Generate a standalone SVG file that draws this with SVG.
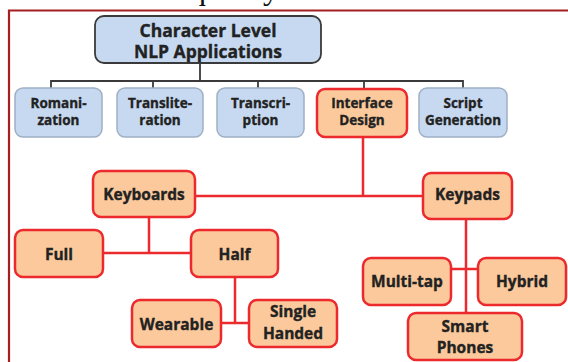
<svg xmlns="http://www.w3.org/2000/svg" width="568" height="362" viewBox="0 0 568 362">
<style>
text{font-family:"Open Sans",Lato,"Liberation Sans",sans-serif;font-weight:700;fill:#222;stroke:#222;stroke-width:0.35;text-anchor:middle}
.cap{font-family:"Liberation Serif","Times New Roman",serif;font-weight:400;fill:#111;stroke:none;text-anchor:start;font-size:32px}
.root{fill:#c6d9f0;stroke:#3a3a3a;stroke-width:1.8}
.blue{fill:#c6d9f0;stroke:#9fb0c4;stroke-width:1.5}
.red{fill:#fbc99b;stroke:#ec2a2e;stroke-width:2.5}
.t1{font-size:17.5px}
.t2{font-size:13.5px}
.t3{font-size:15.5px}
.cg{fill:none;stroke:#3a3a3a;stroke-width:1.8}
.cr{fill:none;stroke:#ec2a2e;stroke-width:2.5}
</style>
<rect width="568" height="362" fill="#fff"/>
<text class="cap" x="190" y="-1">quality</text>
<path d="M9,362 V10.5 H568" fill="none" stroke="#a31f22" stroke-width="2.2"/>
<g id="connectors">
<path class="cg" d="M200,64 V81 M51,88 V81 H463 V88 M153,81 V88 M258,81 V88 M364,81 V89"/>
<path class="cr" d="M363,137 V196 M195,196 H423 M149,217 V253 M103,253 H191 M235,277 V323 M221,323 H249 M466,219 V313 M451,269 H478"/>
</g>
<g id="root"><rect class="root" x="95" y="16" width="226" height="47" rx="9"/><text class="t1" x="208" y="37">Character Level</text><text class="t1" x="208" y="58">NLP Applications</text></g>
<g id="romanization"><rect class="blue" x="15" y="88" width="87" height="49" rx="8"/><text class="t2" x="58.5" y="108">Romani-</text><text class="t2" x="58.5" y="125">zation</text></g>
<g id="transliteration"><rect class="blue" x="117" y="88" width="86" height="49" rx="8"/><text class="t2" x="160" y="108">Translite-</text><text class="t2" x="160" y="125">ration</text></g>
<g id="transcription"><rect class="blue" x="217" y="88" width="87" height="49" rx="8"/><text class="t2" x="260.5" y="108">Transcri-</text><text class="t2" x="260.5" y="125">ption</text></g>
<g id="interface"><rect class="red" x="317" y="89" width="90" height="48" rx="8"/><text class="t2" x="362" y="108">Interface</text><text class="t2" x="362" y="125">Design</text></g>
<g id="script"><rect class="blue" x="419" y="88" width="88" height="49" rx="8"/><text class="t2" x="463" y="108">Script</text><text class="t2" x="463" y="125">Generation</text></g>
<g id="keyboards"><rect class="red" x="93" y="171" width="102" height="46" rx="8"/><text class="t3" x="144" y="200">Keyboards</text></g>
<g id="keypads"><rect class="red" x="423" y="173" width="89" height="46" rx="8"/><text class="t3" x="467.5" y="200">Keypads</text></g>
<g id="full"><rect class="red" x="15" y="230" width="88" height="47" rx="8"/><text class="t3" x="59" y="259.5">Full</text></g>
<g id="half"><rect class="red" x="191" y="230" width="87" height="47" rx="8"/><text class="t3" x="234.5" y="259.5">Half</text></g>
<g id="wearable"><rect class="red" x="132" y="300" width="89" height="47" rx="8"/><text class="t3" x="176.5" y="329.5">Wearable</text></g>
<g id="single"><rect class="red" x="249" y="300" width="88" height="47" rx="8"/><text class="t3" x="293" y="317">Single</text><text class="t3" x="293" y="339">Handed</text></g>
<g id="multitap"><rect class="red" x="363" y="258" width="88" height="47" rx="8"/><text class="t3" x="407" y="286.5">Multi-tap</text></g>
<g id="hybrid"><rect class="red" x="478" y="258" width="88" height="47" rx="8"/><text class="t3" x="522" y="286.5">Hybrid</text></g>
<g id="smartphones"><rect class="red" x="408" y="313" width="114" height="47" rx="8"/><text class="t3" x="465" y="332">Smart</text><text class="t3" x="465" y="353">Phones</text></g>
</svg>
